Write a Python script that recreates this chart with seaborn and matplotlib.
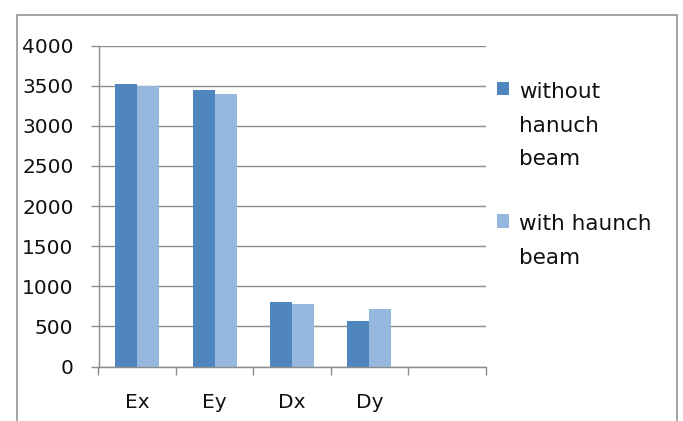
import matplotlib
matplotlib.use("Agg")
import matplotlib.pyplot as plt
import numpy as np
import pandas as pd
import seaborn as sns
from matplotlib.patches import Rectangle

sns.set_theme(style="white")
plt.rcParams["font.family"] = ["DejaVu Sans"]

categories = ["Ex", "Ey", "Dx", "Dy"]
series_names = ["without\nhanuch\nbeam", "with haunch\nbeam"]
without_haunch = [3520, 3450, 805, 565]
with_haunch = [3492, 3394, 777, 722]
yticks = [0, 500, 1000, 1500, 2000, 2500, 3000, 3500, 4000]

colors = ["#4F86BD", "#96B8DF"]
grid_color = "#8C8C8C"
text_color = "#111111"
fs = 14.5

df = pd.DataFrame({
    "case": categories * 2,
    "value": without_haunch + with_haunch,
    "series": [series_names[0]] * len(categories) + [series_names[1]] * len(categories),
})

fig = plt.figure(figsize=(6.83, 4.21), dpi=100)
ax = fig.add_axes([98.5 / 683, 1 - 366.5 / 421, (485.5 - 98.5) / 683, (366.5 - 45.5) / 421])

sns.barplot(data=df, x="case", y="value", hue="series", order=categories,
            hue_order=series_names, palette=colors, width=0.57, saturation=1,
            linewidth=0, ax=ax)

ax.set_xlim(-0.5, 4.5)
ax.set_ylim(0, 4000)
ax.set_xlabel("")
ax.set_ylabel("")

# y axis
ax.set_yticks(yticks)
ax.set_yticklabels([str(v) for v in yticks], fontsize=fs, color=text_color)
ax.yaxis.grid(True, color=grid_color, linewidth=1.0)
ax.set_axisbelow(True)
ax.tick_params(axis="y", direction="out", length=6, width=1.0, color=grid_color, pad=12, left=True)

# x axis: tick marks at category boundaries, labels at centers
ax.set_xticks(np.arange(-0.5, 5.0, 1.0))
ax.set_xticklabels([""] * 6)
ax.set_xticks(np.arange(len(categories)), minor=True)
ax.set_xticklabels(categories, minor=True, fontsize=fs, color=text_color)
ax.tick_params(axis="x", which="major", direction="out", length=6, width=1.0, color=grid_color, bottom=True)
ax.tick_params(axis="x", which="minor", length=0, pad=19)

for side in ["top", "right"]:
    ax.spines[side].set_visible(False)
for side in ["left", "bottom"]:
    ax.spines[side].set_color(grid_color)
    ax.spines[side].set_linewidth(1.0)

# legend
leg = ax.legend(loc="upper left", bbox_to_anchor=(497 / 683, 1 - 82 / 421),
                bbox_transform=fig.transFigure, frameon=False, fontsize=15.5,
                borderpad=0, borderaxespad=0, handlelength=0.56, handleheight=0.56,
                handletextpad=0.45, labelspacing=2.1)
for t in leg.get_texts():
    t.set_linespacing(1.85)
    t.set_color(text_color)
for col in leg._legend_handle_box.get_children():
    for row in col.get_children():
        row.align = "top"

# outer chart border
fig.patches.append(Rectangle((16.5 / 683, -0.1), (677 - 16.5) / 683, 1.1 - 15 / 421,
                             transform=fig.transFigure, fill=False,
                             edgecolor="#8A8A8A", linewidth=1.1))

fig.savefig("out.png", dpi=100)
